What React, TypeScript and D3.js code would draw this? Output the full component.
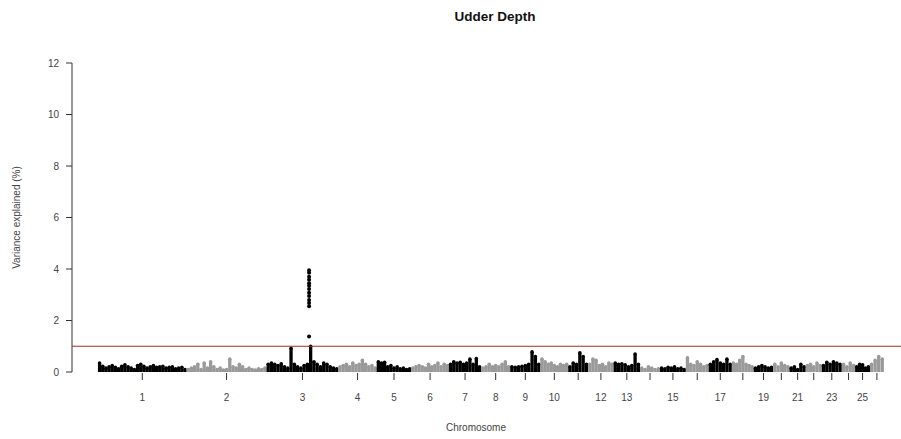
import React from "react";
import * as d3 from "d3";

const title = "Udder Depth";
const yLabel = "Variance explained (%)";
const xLabel = "Chromosome";
const yTicks = [0, 2, 4, 6, 8, 10, 12];
const threshold = 1;

const chromLengths = [275, 248, 223, 119, 107, 117, 100, 90, 94, 86, 62, 79, 82, 62, 80, 71, 72, 68, 60, 51, 50, 50, 62, 42, 45, 44];
const shownLabels = ["1", "2", "3", "4", "5", "6", "7", "8", "9", "10", "12", "13", "15", "17", "19", "21", "23", "25"];

const chromValues: number[][] = [
  [0.35, 0.22, 0.15, 0.2, 0.25, 0.18, 0.12, 0.22, 0.28, 0.2, 0.15, 0.1, 0.25, 0.3, 0.22, 0.15, 0.2, 0.25, 0.18, 0.2, 0.22, 0.15, 0.18, 0.2, 0.12, 0.15, 0.18, 0.1],
  [0.1, 0.15, 0.2, 0.3, 0.1, 0.35, 0.15, 0.4, 0.2, 0.1, 0.15, 0.08, 0.1, 0.5, 0.2, 0.15, 0.3, 0.2, 0.1, 0.15, 0.1, 0.08, 0.12, 0.1, 0.15],
  [0.3, 0.35, 0.3, 0.25, 0.32, 0.2, 0.15, 0.92, 0.3, 0.2, 0.15, 0.25, 0.3, 1.0, 0.4, 0.3, 0.2, 0.35, 0.3, 0.2, 0.15, 0.12],
  [0.2, 0.25, 0.3, 0.2, 0.35, 0.25, 0.3, 0.45, 0.3, 0.2, 0.25, 0.15],
  [0.4, 0.35, 0.38, 0.2, 0.25, 0.15, 0.2, 0.12, 0.15, 0.1, 0.12],
  [0.15, 0.2, 0.25, 0.2, 0.15, 0.3, 0.2, 0.25, 0.35, 0.2, 0.3, 0.25],
  [0.3, 0.4, 0.35, 0.38, 0.3, 0.35, 0.5, 0.3, 0.52, 0.2],
  [0.15, 0.2, 0.3, 0.2, 0.25, 0.2, 0.3, 0.4, 0.2],
  [0.2, 0.18, 0.2, 0.22, 0.25, 0.3, 0.78, 0.6, 0.3],
  [0.5, 0.4, 0.3, 0.35, 0.25, 0.2, 0.3, 0.25, 0.3],
  [0.2, 0.35, 0.3, 0.75, 0.6, 0.3],
  [0.3, 0.5, 0.45, 0.25, 0.3, 0.2, 0.35, 0.3],
  [0.35, 0.3, 0.32, 0.28, 0.2, 0.25, 0.7, 0.3],
  [0.15, 0.1, 0.2, 0.15, 0.1, 0.12],
  [0.15, 0.12, 0.18, 0.15, 0.2, 0.12, 0.15, 0.1],
  [0.55, 0.3, 0.25, 0.4, 0.3, 0.2, 0.25],
  [0.3, 0.4, 0.48, 0.35, 0.3, 0.5, 0.3],
  [0.35, 0.3, 0.45, 0.6, 0.3, 0.25, 0.2],
  [0.15, 0.2, 0.25, 0.2, 0.15, 0.18],
  [0.3, 0.2, 0.35, 0.25, 0.2],
  [0.15, 0.2, 0.1, 0.3, 0.2],
  [0.25, 0.3, 0.2, 0.35, 0.25],
  [0.25, 0.38, 0.3, 0.4, 0.35, 0.3],
  [0.3, 0.2, 0.35, 0.25],
  [0.2, 0.3, 0.28, 0.15, 0.2],
  [0.3, 0.45, 0.6, 0.5],
];

// top hits on chromosome 3
const peakChrom = 3;
const peakPosMb = 132;
const peakValues = [3.95, 3.85, 3.7, 3.58, 3.45, 3.35, 3.22, 3.08, 2.95, 2.8, 2.68, 2.55, 1.38];

const W = 901;
const H = 439;
const font = "'Liberation Sans', Arial, Helvetica, sans-serif";

export default function App() {
  const offsets: number[] = [];
  let acc = 0;
  chromLengths.forEach((l) => {
    offsets.push(acc);
    acc += l;
  });
  const total = acc;

  const x = d3.scaleLinear().domain([0, total]).range([98, 884]);
  const y = d3.scaleLinear().domain([0, 12]).range([372, 63]);

  const points: { cx: number; v: number; c: number }[] = [];
  chromValues.forEach((vals, ci) => {
    const len = chromLengths[ci];
    vals.forEach((v, i) => {
      points.push({ cx: x(offsets[ci] + ((i + 0.5) * len) / vals.length), v, c: ci });
    });
  });
  const colorFor = (ci: number) => (ci % 2 === 0 ? "#000000" : "#9a9a9a");
  const peakX = x(offsets[peakChrom - 1] + peakPosMb);

  return (
    <svg width={W} height={H} style={{ position: "absolute", left: 0, top: 0, background: "#fff" }} fontFamily={font}>
      <text x={495} y={21} textAnchor="middle" fontSize={13.5} fontWeight="bold" fill="#111">
        {title}
      </text>

      {/* y axis */}
      <line x1={72} x2={72} y1={y(12)} y2={y(0)} stroke="#333" />
      {yTicks.map((t) => (
        <g key={t}>
          <line x1={66} x2={72} y1={y(t)} y2={y(t)} stroke="#333" />
          <text x={59} y={y(t) + 3.5} textAnchor="end" fontSize={10} fill="#444">
            {t}
          </text>
        </g>
      ))}
      <text transform={`translate(20,${y(6)}) rotate(-90)`} textAnchor="middle" fontSize={10} fill="#444">
        {yLabel}
      </text>

      {/* x ticks */}
      {chromLengths.map((l, ci) => {
        const mx = x(offsets[ci] + l / 2);
        const lab = String(ci + 1);
        return (
          <g key={ci}>
            <line x1={mx} x2={mx} y1={373} y2={380} stroke="#333" />
            {shownLabels.includes(lab) && (
              <text x={mx} y={401} textAnchor="middle" fontSize={10} fill="#444">
                {lab}
              </text>
            )}
          </g>
        );
      })}
      <text x={476} y={431} textAnchor="middle" fontSize={10} fill="#444">
        {xLabel}
      </text>

      {/* data */}
      {points.map((p, i) => (
        <g key={i}>
          <line x1={p.cx} x2={p.cx} y1={y(0)} y2={y(p.v)} stroke={colorFor(p.c)} strokeWidth={3.3} />
          <circle cx={p.cx} cy={y(p.v)} r={1.8} fill={colorFor(p.c)} />
        </g>
      ))}
      {peakValues.map((v, i) => (
        <circle key={i} cx={peakX} cy={y(v)} r={2} fill="#000" />
      ))}

      {/* threshold */}
      <line x1={72} x2={W} y1={y(threshold)} y2={y(threshold)} stroke="#9e2f2a" strokeWidth={1.2} />
    </svg>
  );
}
